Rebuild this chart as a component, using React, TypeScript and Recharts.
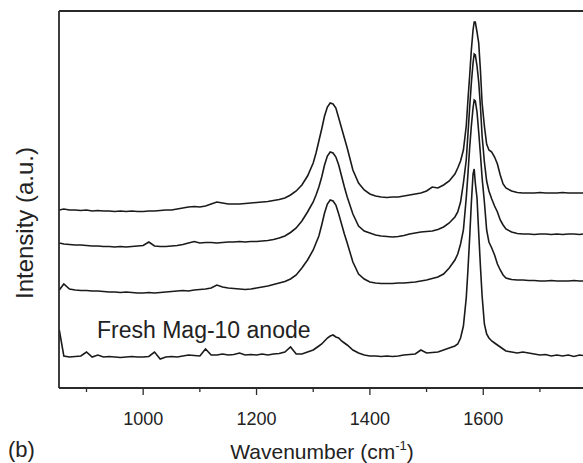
import { LineChart, Line, XAxis, YAxis } from 'recharts'

// Raman shift grid, cm-1 (finer steps around the D and G bands)
const wavenumbers = [
  852, 860, 870, 880, 890, 900, 910, 920, 930, 940,
  950, 960, 970, 980, 990, 1000, 1010, 1020, 1030, 1040,
  1050, 1060, 1070, 1080, 1090, 1100, 1110, 1120, 1130, 1140,
  1150, 1160, 1170, 1180, 1190, 1200, 1210, 1220, 1230, 1240,
  1250, 1260, 1270, 1280, 1290, 1300, 1305, 1310, 1315, 1320,
  1325, 1330, 1335, 1340, 1345, 1350, 1355, 1360, 1370, 1380,
  1390, 1400, 1410, 1420, 1430, 1440, 1450, 1460, 1470, 1480,
  1490, 1500, 1510, 1520, 1530, 1540, 1550, 1555, 1560, 1565,
  1570, 1573, 1576, 1579, 1582, 1584, 1586, 1589, 1592, 1595,
  1598, 1602, 1606, 1610, 1615, 1620, 1625, 1630, 1635, 1640,
  1650, 1660, 1670, 1680, 1690, 1700, 1710, 1720, 1730, 1740,
  1750, 1760, 1770, 1776,
]

// intensities (a.u., already offset for stacking)
const spectrumTop = [
  178, 179, 178, 178, 177.5, 178, 177, 177.5, 177, 177,
  176.5, 177, 176.5, 177, 176.5, 176.5, 177, 177, 177.5, 178,
  178, 179, 180, 181, 181.5, 181, 182, 184, 186, 185,
  184, 184, 184, 184.5, 185, 185.5, 186, 186.5, 187.5, 188.5,
  190, 193, 197, 203, 212, 225, 235, 247, 259, 272,
  281, 285, 284, 280, 270, 260, 250, 240, 218, 205,
  198, 194, 192, 191, 190.5, 191, 191, 192, 193, 194,
  195, 197, 201, 200, 203, 207, 214, 220, 227, 238,
  262, 288, 312, 338, 358, 366, 366, 356, 345, 318,
  285, 262, 244, 238, 236, 231, 224, 213, 204, 200,
  197, 195.5, 195, 195, 195, 195.5, 195, 195, 195, 195.5,
  195, 195, 195, 195,
]

const spectrumSecond = [
  145, 144, 143.5, 143, 143, 142.5, 142, 142, 141.5, 141.5,
  141, 141.5, 141, 141.5, 142, 142.5, 146, 142, 141.5, 141.5,
  142, 142.5, 143.5, 145, 146.5, 145, 145.5, 145.5, 145, 145.5,
  146, 146, 146.5, 146, 146.5, 146.5, 147, 147.5, 148.5, 150,
  152, 155.5, 160, 167, 176, 186, 193, 201, 211, 223,
  232, 236, 235, 231, 223, 212, 201, 191, 174, 162,
  157, 155, 153, 152, 151.5, 151, 151.5, 152.5, 154, 155,
  156, 156.5, 157, 158.5, 161, 165, 171, 176, 186, 205,
  228, 254, 280, 305, 325, 334, 333, 322, 306, 282,
  252, 226, 207, 197, 189, 182, 176, 168, 163, 159,
  156, 154.5, 154, 154, 153.5, 154, 154, 153.5, 154, 153.5,
  154, 154, 153.5, 154,
]

const spectrumThird = [
  98, 104, 99, 98, 97.5, 97.5, 97, 97, 96.5, 96,
  96, 95.5, 96, 95.5, 95, 95, 95.5, 95, 95.5, 96,
  96.5, 97, 97.5, 97, 98, 98.5, 99, 100, 103, 101,
  100, 99.5, 99, 98.5, 99, 100, 101, 102, 103.5, 105,
  106.5, 109, 113, 120, 128, 138, 145, 152, 163, 175,
  184, 188, 187, 183, 174, 164, 154, 145, 126, 114,
  109, 106, 105, 104.5, 104.5, 104.5, 105, 105, 105.5, 106,
  107, 108, 109.5, 111, 114, 120, 128, 134, 144, 158,
  190, 214, 240, 262, 280, 288, 287, 276, 256, 234,
  210, 186, 158, 146, 140, 133, 124, 118, 113, 110,
  108.5, 108, 108, 107.5, 107.5, 107, 107, 107.5, 107, 107,
  107, 107.5, 107, 107,
]

const spectrumFresh = [
  58, 32, 31, 31.5, 32, 36, 31, 33, 31, 31.5,
  31, 30.5, 31, 31.5, 31, 31, 31.5, 36, 29, 31,
  31.5, 31, 32, 33, 32.5, 32, 39, 33, 33, 34,
  33, 33.5, 35, 33, 33.5, 33, 34, 33, 34, 34.5,
  36, 41, 34, 34, 36, 38, 40, 42, 44, 47,
  50, 52, 53, 51, 50, 47, 45, 43, 38, 35,
  33, 32, 32, 31.5, 32, 31.5, 32, 33, 33.5, 34,
  38, 35, 35.5, 36, 38, 40, 42, 44, 50, 62,
  90, 118, 150, 185, 214, 219, 205, 190, 155, 122,
  92, 64, 54, 50, 47, 45, 43, 41, 39, 37,
  36, 35, 36, 35, 34, 33, 33.5, 32, 33, 32,
  33, 31.5, 33, 32.5,
]

const majorTicks = [1000, 1200, 1400, 1600]
const minorTicks = [900, 1100, 1300, 1500, 1700]

const data = wavenumbers.map((w, i) => ({
  w,
  top: spectrumTop[i],
  second: spectrumSecond[i],
  third: spectrumThird[i],
  fresh: spectrumFresh[i],
}))

const FONT = '"Liberation Sans", Arial, sans-serif'
const AXIS = { stroke: '#2a2a2a', strokeWidth: 1.8 }
const X_DOMAIN = [851.5, 1776]

function AxisTick(props: any) {
  const { x, y, payload } = props
  const major = majorTicks.includes(payload.value)
  return (
    <g>
      <line x1={x} x2={x} y1={y} y2={y + (major ? 7 : 4)} stroke="#2a2a2a" strokeWidth={1.3} />
      {major && (
        <text x={x} y={y + 37} textAnchor="middle" fontSize={18} fontFamily={FONT} fill="#222">
          {payload.value}
        </text>
      )}
    </g>
  )
}

export default function App() {
  return (
    <div style={{ position: 'absolute', left: 0, top: 0, width: 583, height: 463, overflow: 'hidden', background: '#fff' }}>
      <LineChart width={590} height={463} data={data} margin={{ top: 10, right: 7, bottom: 35, left: 58 }}>
        <XAxis
          dataKey="w"
          type="number"
          domain={X_DOMAIN}
          allowDataOverflow
          ticks={[...minorTicks, ...majorTicks].sort((a, b) => a - b)}
          interval={0}
          tickLine={false}
          tickSize={0}
          tickMargin={0}
          tick={<AxisTick />}
          axisLine={AXIS}
          height={40}
        />
        <XAxis
          xAxisId="top"
          orientation="top"
          dataKey="w"
          type="number"
          domain={X_DOMAIN}
          allowDataOverflow
          tick={false}
          tickLine={false}
          axisLine={AXIS}
          height={1}
        />
        <YAxis type="number" domain={[0, 377]} width={1} tick={false} tickLine={false} axisLine={AXIS} />
        {['top', 'second', 'third', 'fresh'].map((k) => (
          <Line
            key={k}
            dataKey={k}
            type="linear"
            stroke="#1a1a1a"
            strokeWidth={1.6}
            dot={false}
            isAnimationActive={false}
          />
        ))}
      </LineChart>
      <svg width={583} height={463} style={{ position: 'absolute', left: 0, top: 0, pointerEvents: 'none' }}>
        <text x={97} y={338} fontSize={23} fontFamily={FONT} fill="#222">Fresh Mag-10 anode</text>
        <text transform="translate(33,223) rotate(-90)" textAnchor="middle" fontSize={24} fontFamily={FONT} fill="#222">
          Intensity (a.u.)
        </text>
        <text x={322} y={459} textAnchor="middle" fontSize={21} fontFamily={FONT} fill="#222">
          Wavenumber (cm<tspan fontSize={13} dy={-9}>-1</tspan><tspan dy={9}>)</tspan>
        </text>
        <text x={8} y={457} fontSize={22} fontFamily={FONT} fill="#222">(b)</text>
      </svg>
    </div>
  )
}
